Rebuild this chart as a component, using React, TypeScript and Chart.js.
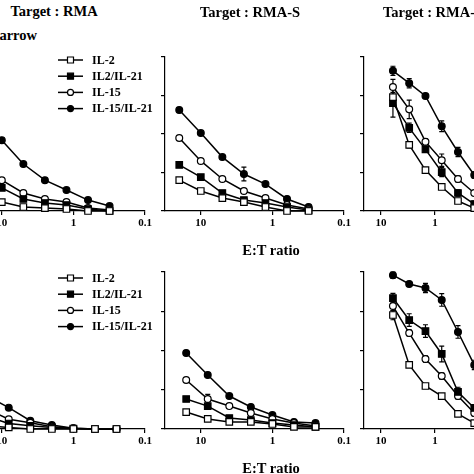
import React, { useEffect, useRef } from "react";
import { Chart, registerables } from "chart.js";

Chart.register(...registerables);

// ---------- data ----------
const SERIES_NAMES = ["IL-2", "IL2/IL-21", "IL-15", "IL-15/IL-21"];
const X_TICKS = [10, 1, 0.1];
const X_TICK_LABELS = ["10", "1", "0.1"];
const Y_TICKS = [0, 25, 50, 75, 100];

const ET_TOP = [20, 10, 5, 2.5, 1.25, 0.625, 0.3125];
const ET_BOTTOM = [16, 8, 4, 2, 1, 0.5, 0.25];
const ET_RIGHT = [6, 3, 1.5, 0.75, 0.375, 0.1875];

// top-left: Target RMA
const RMA_IL2 = [10, 5.8, 2.6, 1.9, 1.3, 0, 0];
const RMA_IL2_IL21 = [24, 15, 7.8, 5.2, 3.9, 1.3, 0];
const RMA_IL15 = [30, 20, 11.7, 7.8, 5.8, 1.9, 0.6];
const RMA_IL15_IL21 = [62, 46, 30.5, 20, 13.6, 7.1, 3.2];

// top-middle: Target RMA-S
const RMAS_IL2 = [20, 13, 8.4, 5.8, 2.6, 0, 0];
const RMAS_IL2_IL21 = [29.9, 22, 11.7, 7.1, 5.2, 2.6, 0.6];
const RMAS_IL15 = [47.4, 32.5, 20.8, 13, 8.4, 3.9, 1.3];
const RMAS_IL15_IL21 = [65.6, 50.6, 35, 24, 17.5, 7.8, 2.6];
const RMAS_IL15_IL21_ERR = [0, 0, 0, 4.5, 0, 0, 0];

// top-right
const T3_IL2 = [74, 42.9, 26.6, 15.6, 6.5, 1.9];
const T3_IL2_IL21 = [70, 54, 40, 25.3, 11.7, 4.5];
const T3_IL15 = [80.5, 66, 45, 33, 20.8, 11.7];
const T3_IL15_IL21 = [91, 83, 74.7, 55, 38.3, 23.4];
const T3_IL2_ERR = [3, 2, 1, 1.5, 1, 1];
const T3_IL2_IL21_ERR = [9, 3, 2, 3, 2, 2];
const T3_IL15_ERR = [5, 6, 2, 4, 2, 1.5];
const T3_IL15_IL21_ERR = [3, 3, 1.5, 3.5, 3, 2];

// bottom-left
const B1_IL2 = [2, 1, 0, 0, 0, 0, 0];
const B1_IL2_IL21 = [8, 3.5, 2, 1, 0.3, 0, 0];
const B1_IL15 = [12.7, 6.2, 4, 1.5, 0.5, 0, 0];
const B1_IL15_IL21 = [21, 13.6, 5.3, 2.5, 0.5, 0, 0];

// bottom-middle
const B2_IL2 = [10.8, 6.4, 4.5, 4.5, 3.2, 1.3, 1.3];
const B2_IL2_IL21 = [19.1, 14.6, 7, 5.7, 3.8, 2.5, 1.3];
const B2_IL15 = [31.2, 19.1, 14.6, 10.2, 6.4, 3.8, 1.9];
const B2_IL15_IL21 = [48.4, 34.4, 21, 14, 8.9, 4.5, 3.8];
const B2_IL15_ERR = [0, 3, 0, 0, 0, 0, 0];

// bottom-right
const B3_IL2 = [72.6, 40.8, 27.4, 21, 9.6, 3.8];
const B3_IL2_IL21 = [83.4, 69.4, 62.4, 47.8, 23.6, 13.4];
const B3_IL15 = [78.3, 61.1, 44.6, 33.8, 21, 10.2];
const B3_IL15_IL21 = [98, 92.4, 89.8, 82.2, 61.8, 40.8];
const B3_IL2_ERR = [3, 1, 1, 1, 1, 1];
const B3_IL2_IL21_ERR = [3, 4, 4, 5, 3, 2];
const B3_IL15_ERR = [3, 2, 2, 2, 2, 2];
const B3_IL15_IL21_ERR = [2, 1, 3, 4, 4, 3];

// ---------- styling / layout ----------
const FONT = "'Liberation Serif', 'Times New Roman', serif";
const Y_W = 8;
const X_H = 24;
const PAD_T = 8;
const PAD_R = 16;

const STYLES = [
  { shape: "rect", fill: "#ffffff" },
  { shape: "rect", fill: "#000000" },
  { shape: "circle", fill: "#ffffff" },
  { shape: "circle", fill: "#000000" },
];

type PanelCfg = {
  l: number; r: number; t: number; b: number; xMax: number;
  x: number[]; series: number[][]; errors: (number[] | null)[];
  legend: { dx: number; dy: number } | null;
};

const PANELS: PanelCfg[] = [
  { l: -34, r: 145, t: 57, b: 211, xMax: 31.62, x: ET_TOP,
    series: [RMA_IL2, RMA_IL2_IL21, RMA_IL15, RMA_IL15_IL21], errors: [null, null, null, null],
    legend: { dx: 92, dy: 3 } },
  { l: 165, r: 344, t: 57, b: 211, xMax: 31.62, x: ET_TOP,
    series: [RMAS_IL2, RMAS_IL2_IL21, RMAS_IL15, RMAS_IL15_IL21], errors: [null, null, null, RMAS_IL15_IL21_ERR],
    legend: null },
  { l: 364, r: 489, t: 57, b: 211, xMax: 20.6, x: ET_RIGHT,
    series: [T3_IL2, T3_IL2_IL21, T3_IL15, T3_IL15_IL21], errors: [T3_IL2_ERR, T3_IL2_IL21_ERR, T3_IL15_ERR, T3_IL15_IL21_ERR],
    legend: null },
  { l: -34, r: 145, t: 272, b: 429, xMax: 31.62, x: ET_BOTTOM,
    series: [B1_IL2, B1_IL2_IL21, B1_IL15, B1_IL15_IL21], errors: [null, null, null, null],
    legend: { dx: 92, dy: 6 } },
  { l: 165, r: 344, t: 272, b: 429, xMax: 31.62, x: ET_BOTTOM,
    series: [B2_IL2, B2_IL2_IL21, B2_IL15, B2_IL15_IL21], errors: [null, null, B2_IL15_ERR, null],
    legend: null },
  { l: 364, r: 489, t: 272, b: 429, xMax: 20.6, x: ET_RIGHT,
    series: [B3_IL2, B3_IL2_IL21, B3_IL15, B3_IL15_IL21], errors: [B3_IL2_ERR, B3_IL2_IL21_ERR, B3_IL15_ERR, B3_IL15_IL21_ERR],
    legend: null },
];

const errorBarPlugin = {
  id: "errorBars",
  beforeDatasetsDraw(chart: any) {
    const ctx = chart.ctx;
    const yScale = chart.scales.y;
    ctx.save();
    ctx.strokeStyle = "#000";
    ctx.lineWidth = 1.2;
    chart.data.datasets.forEach((ds: any, i: number) => {
      if (!ds.errors) return;
      const meta = chart.getDatasetMeta(i);
      meta.data.forEach((pt: any, j: number) => {
        const e = ds.errors[j];
        if (!e) return;
        const v = ds.data[j].y;
        const yT = yScale.getPixelForValue(v + e);
        const yB = yScale.getPixelForValue(Math.max(0, v - e));
        ctx.beginPath();
        ctx.moveTo(pt.x, yT);
        ctx.lineTo(pt.x, yB);
        ctx.moveTo(pt.x - 2.5, yT);
        ctx.lineTo(pt.x + 2.5, yT);
        ctx.moveTo(pt.x - 2.5, yB);
        ctx.lineTo(pt.x + 2.5, yB);
        ctx.stroke();
      });
    });
    ctx.restore();
  },
};

const legendPlugin = {
  id: "panelLegend",
  afterDraw(chart: any, _args: any, opts: any) {
    if (!opts || !opts.show) return;
    const ctx = chart.ctx;
    const area = chart.chartArea;
    ctx.save();
    ctx.font = `bold 12px ${FONT}`;
    ctx.textBaseline = "middle";
    ctx.fillStyle = "#000";
    SERIES_NAMES.forEach((name, i) => {
      const x0 = area.left + opts.dx;
      const y = area.top + opts.dy + i * 16.2;
      ctx.strokeStyle = "#000";
      ctx.lineWidth = 1.5;
      ctx.beginPath();
      ctx.moveTo(x0, y);
      ctx.lineTo(x0 + 25, y);
      ctx.stroke();
      const cx = x0 + 12.5;
      ctx.lineWidth = 1.2;
      ctx.fillStyle = STYLES[i].fill;
      ctx.beginPath();
      if (STYLES[i].shape === "rect") {
        ctx.rect(cx - 3, y - 3, 6, 6);
      } else {
        ctx.arc(cx, y, 3, 0, Math.PI * 2);
      }
      ctx.fill();
      ctx.stroke();
      ctx.fillStyle = "#000";
      ctx.fillText(name, x0 + 34, y + 0.5);
    });
    ctx.restore();
  },
};

function Panel({ cfg }: { cfg: PanelCfg }) {
  const ref = useRef<HTMLCanvasElement>(null);
  const W = cfg.r - cfg.l + Y_W + PAD_R;
  const H = cfg.b - cfg.t + PAD_T + X_H;

  useEffect(() => {
    if (!ref.current) return;
    const axisGrid = {
      display: true,
      drawOnChartArea: false,
      drawTicks: true,
      tickLength: 4,
      color: "#000",
      lineWidth: 1.2,
    };
    const chart = new Chart(ref.current, {
      type: "line",
      data: {
        datasets: cfg.series.map((s, i) => ({
          label: SERIES_NAMES[i],
          data: cfg.x.map((xv, j) => ({ x: xv, y: s[j] })),
          errors: cfg.errors[i],
          borderColor: "#000",
          borderWidth: 1.5,
          backgroundColor: STYLES[i].fill,
          pointBackgroundColor: STYLES[i].fill,
          pointBorderColor: "#000",
          pointBorderWidth: 1.2,
          pointStyle: STYLES[i].shape === "rect" ? "rect" : "circle",
          pointRadius: STYLES[i].shape === "rect" ? 4.6 : 3.4,
          tension: 0,
          clip: false,
        })) as any,
      },
      options: {
        responsive: false,
        animation: false,
        devicePixelRatio: 1,
        events: [],
        layout: { padding: { left: 0, top: PAD_T, right: PAD_R, bottom: 0 } },
        plugins: {
          legend: { display: false },
          tooltip: { enabled: false },
          title: { display: false },
          panelLegend: cfg.legend ? { show: true, dx: cfg.legend.dx, dy: cfg.legend.dy } : { show: false },
        } as any,
        scales: {
          x: {
            type: "logarithmic",
            reverse: true,
            min: 0.1,
            max: cfg.xMax,
            afterBuildTicks: (s: any) => {
              s.ticks = X_TICKS.map((v) => ({ value: v }));
            },
            afterFit: (s: any) => {
              s.height = X_H;
            },
            ticks: {
              callback: (_v: any, i: number) => X_TICK_LABELS[i],
              font: { family: FONT, size: 11, weight: "bold" },
              color: "#000",
              padding: 2,
              maxRotation: 0,
              autoSkip: false,
            },
            grid: axisGrid,
            border: { display: true, color: "#000", width: 1.2 },
          },
          y: {
            type: "linear",
            min: 0,
            max: 100,
            afterBuildTicks: (s: any) => {
              s.ticks = Y_TICKS.map((v) => ({ value: v }));
            },
            afterFit: (s: any) => {
              s.width = Y_W;
            },
            ticks: { display: false },
            grid: axisGrid,
            border: { display: true, color: "#000", width: 1.2 },
          },
        } as any,
      },
      plugins: [errorBarPlugin, legendPlugin],
    });
    return () => chart.destroy();
  }, []);

  return (
    <canvas
      ref={ref}
      width={W}
      height={H}
      style={{ position: "absolute", left: cfg.l - Y_W, top: cfg.t - PAD_T, width: W, height: H }}
    />
  );
}

const textBase: React.CSSProperties = {
  position: "absolute",
  fontFamily: FONT,
  fontWeight: "bold",
  fontSize: 14.5,
  lineHeight: "16px",
  color: "#000",
  whiteSpace: "nowrap",
};

export default function App() {
  return (
    <div
      style={{
        position: "fixed",
        left: 0,
        top: 0,
        width: 474,
        height: 474,
        overflow: "hidden",
        background: "#fff",
      }}
    >
      {PANELS.map((p, i) => (
        <Panel key={i} cfg={p} />
      ))}
      <div style={{ ...textBase, left: 54, top: 11, transform: "translate(-50%, -50%)" }}>Target : RMA</div>
      <div style={{ ...textBase, left: 250, top: 12, transform: "translate(-50%, -50%)" }}>Target : RMA-S</div>
      <div style={{ ...textBase, left: 383, top: 12, transform: "translateY(-50%)" }}>Target : RMA-Rae1</div>
      <div style={{ ...textBase, right: 474 - 37, top: 35, transform: "translateY(-50%)" }}>Marrow</div>
      <div style={{ ...textBase, left: 271, top: 250, transform: "translate(-50%, -50%)" }}>E:T ratio</div>
      <div style={{ ...textBase, left: 271, top: 468, transform: "translate(-50%, -50%)" }}>E:T ratio</div>
    </div>
  );
}
